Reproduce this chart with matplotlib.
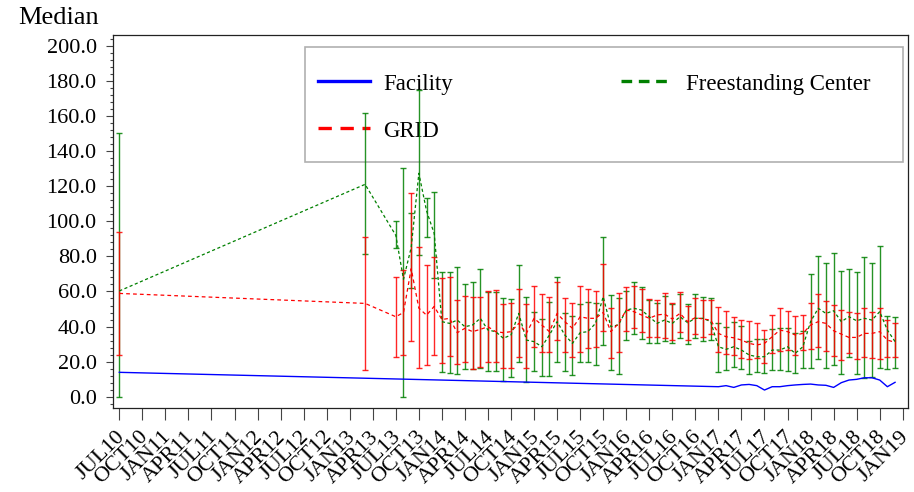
import matplotlib
matplotlib.use('Agg')
import matplotlib.pyplot as plt
from matplotlib.ticker import MultipleLocator, FormatStrFormatter
from matplotlib.lines import Line2D
from matplotlib.patches import Rectangle
from matplotlib.transforms import ScaledTranslation

plt.rcParams['font.family'] = ['Liberation Serif', 'DejaVu Serif']

MON = ['JAN', 'FEB', 'MAR', 'APR', 'MAY', 'JUN', 'JUL', 'AUG', 'SEP', 'OCT', 'NOV', 'DEC']

def mnum(lbl):  # 'JUL13' -> months since JUL10
    return (int(lbl[3:]) - 10) * 12 + MON.index(lbl[:3]) - 6

# months with data for Freestanding Center and GRID
months = ['JUL10', 'MAR13'] + [m + str(y) for y in range(13, 19) for m in MON][6:]

fs_med = [60.3, 121.1,
          92.0, 67.0, 85.0, 127.4, 106.0, 93.0,
          42.8, 41.8, 43.7, 39.9, 40.9, 44.7, 38.0, 37.1, 33.3, 35.2, 47.5, 32.3,
          31.4, 28.5, 35.2, 42.8, 35.2, 30.4, 36.5, 37.1, 41.8, 57.0, 39.9, 41.0,
          49.4, 50.4, 49.4, 45.6, 41.8, 43.7, 41.8, 45.6, 42.2, 44.7, 44.7, 42.8,
          28.5, 27.0, 28.5, 26.6, 23.8, 22.8, 22.8, 26.6, 26.6, 28.5, 24.7, 28.5,
          42.8, 50.4, 47.5, 49.0, 42.8, 45.6, 43.3, 44.7, 43.7, 48.5, 38.0, 31.4]
fs_lo = [0.0, 81.4,
         84.6, 0.0, 61.8, 80.8, 91.3, 67.7,
         13.9, 13.3, 12.7, 15.6, 15.8, 16.5, 14.6, 14.6, 8.9, 11.4, 19.6, 8.2,
         14.6, 11.8, 11.8, 19.6, 14.8, 12.2, 19.6, 19.6, 17.9, 29.5, 15.2, 12.7,
         32.3, 35.5, 32.9, 30.4, 30.4, 31.7, 30.4, 33.3, 30.0, 33.3, 31.7, 32.3,
         13.9, 15.2, 16.7, 15.6, 12.9, 13.9, 13.3, 15.2, 15.2, 14.8, 13.3, 16.5,
         16.5, 21.5, 16.5, 17.9, 12.7, 22.8, 12.7, 10.8, 11.4, 16.2, 15.6, 16.5]
fs_hi = [150.2, 161.6,
         100.4, 130.2, 105.0, 175.0, 113.1, 116.9,
         71.3, 71.3, 73.8, 64.3, 65.2, 73.0, 59.5, 59.9, 56.5, 55.5, 75.1, 56.6,
         48.5, 44.1, 54.2, 68.1, 47.5, 46.0, 52.8, 54.2, 53.2, 91.2, 58.0, 56.1,
         60.0, 65.6, 62.7, 55.1, 53.2, 57.4, 52.7, 58.4, 52.7, 58.4, 57.0, 56.5,
         42.2, 39.5, 42.4, 40.5, 31.7, 32.9, 32.9, 38.4, 39.4, 39.0, 36.1, 37.4,
         69.8, 80.4, 76.4, 82.1, 71.9, 72.6, 71.3, 79.8, 76.4, 86.1, 46.2, 45.6]

grid_med = [58.9, 53.2,
            45.6, 48.0, 73.0, 50.5, 46.5, 51.5,
            44.0, 44.7, 36.5, 39.0, 37.1, 38.4, 39.9, 37.1, 36.5, 37.1, 41.8, 36.1,
            44.7, 40.9, 37.1, 47.5, 42.8, 39.0, 45.6, 44.7, 44.7, 48.0, 37.1, 41.8,
            49.4, 48.5, 46.6, 44.7, 46.6, 47.1, 44.3, 47.5, 42.8, 45.1, 44.3, 43.7,
            36.1, 34.2, 33.6, 32.3, 30.4, 29.5, 30.4, 34.2, 38.0, 37.1, 35.2, 36.1,
            40.9, 42.8, 41.8, 37.6, 35.7, 33.8, 33.8, 36.1, 36.1, 37.1, 32.3, 31.0]
grid_lo = [23.8, 15.2,
           22.5, 24.0, 32.0, 16.2, 18.1, 23.8,
           19.0, 23.2, 18.6, 20.0, 15.8, 16.7, 19.6, 19.6, 16.2, 16.5, 22.4, 16.5,
           28.1, 25.3, 25.3, 32.3, 25.3, 22.8, 25.3, 27.6, 28.1, 37.6, 21.9, 25.7,
           37.6, 39.0, 36.7, 34.2, 34.2, 33.3, 32.3, 37.1, 32.3, 35.5, 34.2, 35.5,
           25.3, 24.1, 23.8, 21.9, 21.3, 21.9, 19.4, 24.7, 26.0, 26.6, 23.8, 26.6,
           27.2, 28.1, 26.2, 23.2, 20.9, 24.7, 21.3, 22.4, 21.9, 21.3, 22.8, 22.8]
grid_hi = [93.7, 91.3,
           68.4, 72.2, 116.0, 85.5, 75.1, 79.8,
           67.5, 68.1, 55.1, 57.6, 57.0, 56.7, 60.3, 60.8, 52.9, 53.2, 61.2, 52.8,
           63.1, 58.6, 57.0, 65.2, 56.1, 53.2, 63.3, 61.2, 60.5, 75.7, 50.8, 58.9,
           62.4, 63.3, 61.2, 55.7, 55.1, 58.9, 53.2, 59.9, 51.9, 56.1, 55.1, 55.1,
           50.9, 49.0, 45.2, 43.7, 43.3, 41.8, 38.0, 46.6, 50.8, 49.0, 46.2, 46.6,
           53.2, 58.4, 54.6, 52.3, 49.4, 48.5, 47.5, 50.4, 48.5, 50.8, 43.7, 42.2]

fac_months = ['JUL10'] + [m + str(y) for y in (17, 18) for m in MON]
fac_vals = [13.9,
            5.7, 6.3, 5.3, 6.7, 7.0, 6.3, 3.8, 5.7, 5.7, 6.3, 6.7, 7.0,
            7.2, 6.7, 6.5, 5.3, 8.0, 9.5, 9.9, 10.8, 10.8, 9.5, 5.7, 8.2]

# quarterly tick labels JUL10 .. JAN19
tick_labels = ([q + '10' for q in ('JUL', 'OCT')]
               + [q + str(y) for y in range(11, 19) for q in ('JAN', 'APR', 'JUL', 'OCT')]
               + ['JAN19'])

x = [mnum(m) for m in months]
xf = [mnum(m) for m in fac_months]

fig = plt.figure(figsize=(9.14, 4.92), dpi=100)
ax = fig.add_axes([0.1233, 0.1701, 0.8706, 0.7588])

green = '#008000'
red = '#ff0000'
blue = '#0000ff'

fs_err = [[m - l for m, l in zip(fs_med, fs_lo)], [h - m for m, h in zip(fs_med, fs_hi)]]
gr_err = [[m - l for m, l in zip(grid_med, grid_lo)], [h - m for m, h in zip(grid_med, grid_hi)]]
ax.errorbar(x, fs_med, yerr=fs_err, fmt='none', ecolor=green, elinewidth=1.0,
            capsize=2.3, capthick=1.0, alpha=0.85, zorder=3)
ax.errorbar(x, grid_med, yerr=gr_err, fmt='none', ecolor=red, elinewidth=1.0,
            capsize=2.3, capthick=1.0, alpha=0.85, zorder=3)

ax.plot(xf, fac_vals, color=blue, lw=1.0, zorder=3)
ax.plot(x, fs_med, color=green, lw=0.9, dashes=(2.5, 2), zorder=3)
ax.plot(x, grid_med, color=red, lw=0.9, dashes=(3, 2.5), zorder=3)

ax.set_xlim(-0.86, 102.74)
ax.set_ylim(-6.62, 206.27)
ax.yaxis.set_major_locator(MultipleLocator(20))
ax.yaxis.set_minor_locator(MultipleLocator(4))
ax.yaxis.set_major_formatter(FormatStrFormatter('%.1f'))
ax.set_xticks([mnum(t) for t in tick_labels])
ax.set_xticklabels(tick_labels, rotation=45, ha='right', va='top', rotation_mode='anchor')
ax.tick_params(axis='x', length=8.4, width=0.8, labelsize=16, pad=6, color='#444444')
ax.tick_params(axis='y', which='major', length=5, width=0.8, labelsize=16, pad=6.5, color='#444444')
ax.tick_params(axis='y', which='minor', length=2.4, width=0.8, color='#444444')
shift = ScaledTranslation(-4 / 100, 1 / 100, fig.dpi_scale_trans)
for lab in ax.get_xticklabels():
    lab.set_transform(lab.get_transform() + shift)
for s in ax.spines.values():
    s.set_linewidth(0.9)
    s.set_color('#222222')

fig.text(18 / 914, 1 - 18 / 492, 'Median', fontsize=19, va='center', ha='left')

# legend frame drawn separately (behind the data), entries placed inside it
ax.add_patch(Rectangle((0.2417, 0.6598), 0.7515, 0.3081, transform=ax.transAxes,
                       facecolor='none', edgecolor='#b0b0b0', lw=1.2, zorder=1))
handles = [Line2D([], [], color=blue, lw=2.4),
           Line2D([], [], color=red, lw=2.4, dashes=(4, 2.6)),
           Line2D([], [], color=green, lw=2.4, dashes=(3.2, 2.0))]
leg = ax.legend(handles, ['Facility', 'GRID', 'Freestanding Center'], ncol=2,
                loc='center left', bbox_to_anchor=(0.258, 0.807), fontsize=16.5,
                frameon=False, borderpad=0, handlelength=2.27, handleheight=1.0,
                handletextpad=0.57, labelspacing=1.07, columnspacing=7.35,
                borderaxespad=0)
leg.set_zorder(2)

fig.savefig('out.png', dpi=100)
